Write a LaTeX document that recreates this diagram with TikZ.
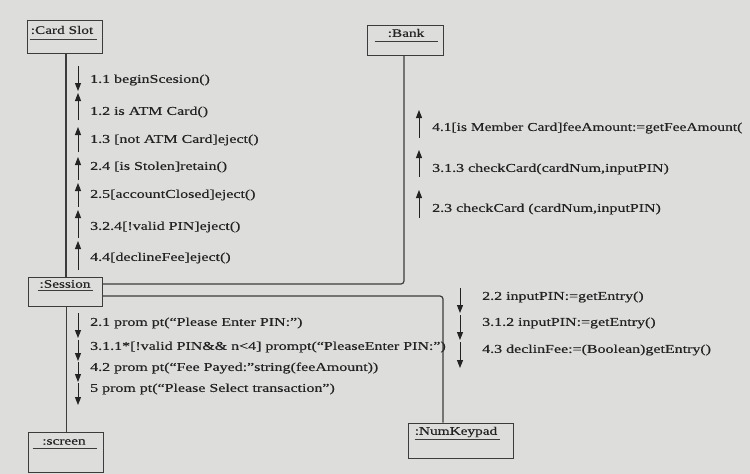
\documentclass[tikz,border=0pt]{standalone}
\usepackage{fontspec}
\setmainfont{Liberation Serif}[FakeStretch=1.33,FakeBold=0.4]
\usetikzlibrary{arrows.meta,calc}
\definecolor{bgc}{RGB}{221,221,219}
\definecolor{inkc}{RGB}{35,35,35}
\definecolor{linec}{RGB}{60,60,60}
\begin{document}
\begin{tikzpicture}[x=1pt,y=-1pt,
  objbox/.style={draw=linec, line width=0.8pt, inner sep=0pt, fill=bgc},
  objlbl/.style={text=inkc, inner sep=0pt, font=\fontsize{11.5}{12}\selectfont},
  uline/.style={draw=linec, line width=0.9pt},
  link/.style={draw=linec, line width=1.2pt},
  msg/.style={draw=inkc, line width=1pt, -{Triangle[length=8pt,width=6pt]}},
  mtxt/.style={text=inkc, anchor=west, inner sep=0pt, font=\fontsize{12}{13}\selectfont}]
\clip (0,0) rectangle (750,474);
\fill[bgc] (0,0) rectangle (750,474);

% object boxes
\node[objbox, minimum width=75pt, minimum height=33pt] (card) at (64.5,36.5) {};
\node[objbox, minimum width=76pt, minimum height=30pt] (bank) at (405,40) {};
\node[objbox, minimum width=74pt, minimum height=29pt] (session) at (65,291.5) {};
\node[objbox, minimum width=75pt, minimum height=40pt] (screen) at (65.5,452) {};
\node[objbox, minimum width=105pt, minimum height=35pt] (numkey) at (460.5,440.5) {};

% links
\draw[link] ([xshift=1.5pt]card.south) -- ([xshift=1.5pt]card.south |- session.north);
\draw[link] ([xshift=1.5pt]session.south) -- ([xshift=1.5pt]session.south |- screen.north);
\draw[link, rounded corners=3pt] ([xshift=-1pt]bank.south) |- ([yshift=7.5pt]session.east);
\draw[link, rounded corners=3pt] ([yshift=-4.5pt]session.east) -| ([xshift=-17.5pt]numkey.north);

% labels
\node[objlbl] (cardl) at (62,30) {:Card Slot};
\draw[uline] ($(card.north west)+(3,20)$) -- ($(card.north east)+(-5,20)$);
\node[objlbl] (bankl) at (406,33) {:Bank};
\draw[uline] ($(bank.north west)+(8,17)$) -- ($(bank.north east)+(-5,17)$);
\node[objlbl] (sessl) at (65,284) {:Session};
\draw[uline] ($(session.north west)+(10,14)$) -- ($(session.north east)+(-9,14)$);
\node[objlbl] (scrl) at (64,442) {:screen};
\draw[uline] ($(screen.north west)+(5,17)$) -- ($(screen.north east)+(-6,17)$);
\node[objlbl] (nkl) at (456,432) {:NumKeypad};
\draw[uline] ($(numkey.north west)+(7,17)$) -- ($(numkey.north east)+(-13,17)$);

% Card Slot messages
\draw[msg] (78,66) -- (78,91);
\draw[msg] (78,120) -- (78,93);
\draw[msg] (78,152) -- (78,127);
\draw[msg] (78,180) -- (78,157);
\draw[msg] (78,207) -- (78,183);
\draw[msg] (78,238) -- (78,210);
\draw[msg] (78,270) -- (78,241);
\node[mtxt] (m11) at (90,80) {1.1 beginScesion()};
\node[mtxt] (m12) at (90,112) {1.2 is ATM Card()};
\node[mtxt] (m13) at (90,140) {1.3 [not ATM Card]eject()};
\node[mtxt] (m24) at (90,167) {2.4 [is Stolen]retain()};
\node[mtxt] (m25) at (90,195) {2.5[accountClosed]eject()};
\node[mtxt] (m324) at (90,227) {3.2.4[!valid PIN]eject()};
\node[mtxt] (m44) at (90,258) {4.4[declineFee]eject()};

% Bank messages
\draw[msg] (419,138) -- (419,110);
\draw[msg] (419,177) -- (419,150);
\draw[msg] (419,218) -- (419,190);
\node[mtxt, xscale=0.97] (m41) at (432,128) {4.1[is Member Card]feeAmount:=getFeeAmount(};
\node[mtxt] (m313) at (432,169) {3.1.3 checkCard(cardNum,inputPIN)};
\node[mtxt] (m23) at (432,209) {2.3 checkCard (cardNum,inputPIN)};

% Session -> screen messages
\draw[msg] (78,313) -- (78,338);
\draw[msg] (78,340) -- (78,361);
\draw[msg] (78,362) -- (78,382);
\draw[msg] (78,383) -- (78,405);
\node[mtxt] (m21) at (90,323) {2.1 prom pt(“Please Enter PIN:”)};
\node[mtxt] (m311) at (90,347) {3.1.1*[!valid PIN\&\& n<4] prompt(“PleaseEnter PIN:”)};
\node[mtxt] (m42) at (90,368) {4.2 prom pt(“Fee Payed:”string(feeAmount))};
\node[mtxt] (m5) at (90,389) {5 prom pt(“Please Select transaction”)};

% NumKeypad messages
\draw[msg] (460,288) -- (460,313);
\draw[msg] (460,315) -- (460,340);
\draw[msg] (460,342) -- (460,368);
\node[mtxt] (m22) at (482,297) {2.2 inputPIN:=getEntry()};
\node[mtxt] (m312) at (482,323) {3.1.2 inputPIN:=getEntry()};
\node[mtxt] (m43) at (482,350) {4.3 declinFee:=(Boolean)getEntry()};
\end{tikzpicture}
\end{document}
